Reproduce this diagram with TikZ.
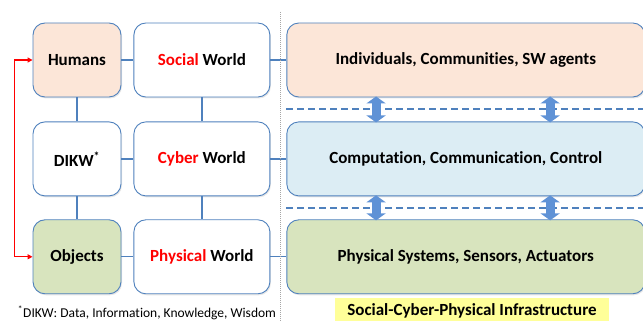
\documentclass[tikz,border=0pt]{standalone}
\usepackage{fontspec}
\setmainfont[Ligatures=NoCommon]{Carlito}
\usetikzlibrary{arrows.meta, positioning, shapes, calc, shadows}

\definecolor{boxblue}{HTML}{4F81BD}
\definecolor{arrowblue}{HTML}{5F92D6}
\definecolor{peach}{HTML}{FCE6D8}
\definecolor{skyfill}{HTML}{DCEDF4}
\definecolor{leaf}{HTML}{D8E4BE}
\definecolor{lemon}{HTML}{FFFF99}

\begin{document}
\begin{tikzpicture}[x=1pt, y=1pt, font=\bfseries\fontsize{17}{20}\selectfont,
    box/.style={draw=boxblue, line width=0.9pt, rounded corners=12pt, fill=white, align=center, inner sep=0pt,
        drop shadow={opacity=0.2, shadow xshift=1pt, shadow yshift=-1.5pt}},
    small/.style={box, minimum width=88pt, minimum height=74pt},
    world/.style={box, minimum width=136pt, minimum height=74pt},
    layer/.style={box, minimum width=358pt, minimum height=74pt},
    link/.style={draw=boxblue, line width=1.4pt},
    sep/.style={draw=boxblue, line width=1.8pt, dash pattern=on 7pt off 4pt},
    fat/.style={draw=arrowblue, line width=9pt, {Triangle[width=19pt, length=7pt]}-{Triangle[width=19pt, length=7pt]}, shorten <=-1pt, shorten >=-1pt},
    hl/.style={text=red}]
    \useasboundingbox (0,0) rectangle (643,321);

    % left column
    \node[small, fill=peach] (hum) at (77,261) {Humans};
    \node[small, below=24pt of hum] (dikw) {DIKW\textsuperscript{*}};
    \node[small, fill=leaf, below=23pt of dikw] (obj) {Objects};

    % worlds
    \node[world, right=12pt of hum] (soc) {\textcolor{red}{Social} World};
    \node[world, right=12pt of dikw] (cyb) {\textcolor{red}{Cyber} World};
    \node[world, right=12pt of obj] (phy) {\textcolor{red}{Physical} World};

    % infrastructure layers
    \node[layer, fill=peach, right=16pt of soc] (sl) {Individuals, Communities, SW agents};
    \node[layer, fill=skyfill, right=16pt of cyb] (cl) {Computation, Communication, Control};
    \node[layer, fill=leaf, right=16pt of phy] (pl) {Physical Systems, Sensors, Actuators};

    \draw[link] (hum) -- (soc);
    \draw[link] (soc) -- (sl);
    \draw[link] (dikw) -- (cyb);
    \draw[link] (cyb) -- (cl);
    \draw[link] (obj) -- (phy);
    \draw[link] (phy) -- (pl);
    \draw[link] (hum) -- (dikw);
    \draw[link] (dikw) -- (obj);
    \draw[link] (soc) -- (cyb);
    \draw[link] (cyb) -- (phy);

    \draw[red, line width=1.2pt, {Triangle[length=5pt, width=5pt]}-{Triangle[length=5pt, width=5pt]}]
        (hum.west) -- ++(-18,0) |- (obj.west);

    \draw[gray!70, line width=0.6pt, dash pattern=on 1pt off 1pt] (280,309) -- (280,0);

    \draw[sep] ($(sl.south west)!0.5!(cl.north west) + (0,0.5)$) -- ($(sl.south east)!0.5!(cl.north east) + (0,0.5)$);
    \draw[sep] ($(cl.south west)!0.5!(pl.north west)$) -- ($(cl.south east)!0.5!(pl.north east)$);

    \draw[fat] ($(sl.south west)!0.25!(sl.south east)$) -- ($(cl.north west)!0.25!(cl.north east)$);
    \draw[fat] ($(sl.south west)!0.735!(sl.south east)$) -- ($(cl.north west)!0.735!(cl.north east)$);
    \draw[fat] ($(cl.south west)!0.25!(cl.south east)$) -- ($(pl.north west)!0.25!(pl.north east)$);
    \draw[fat] ($(cl.south west)!0.735!(cl.south east)$) -- ($(pl.north west)!0.735!(pl.north east)$);

    \node[font=\fontsize{13.5}{16}\selectfont] (note) at (147,8) {\textsuperscript{*}DIKW: Data, Information, Knowledge, Wisdom};
    \node[fill=lemon, minimum width=274pt, minimum height=26pt] (infra) at (472,10) {Social-Cyber-Physical Infrastructure};
\end{tikzpicture}
\end{document}
